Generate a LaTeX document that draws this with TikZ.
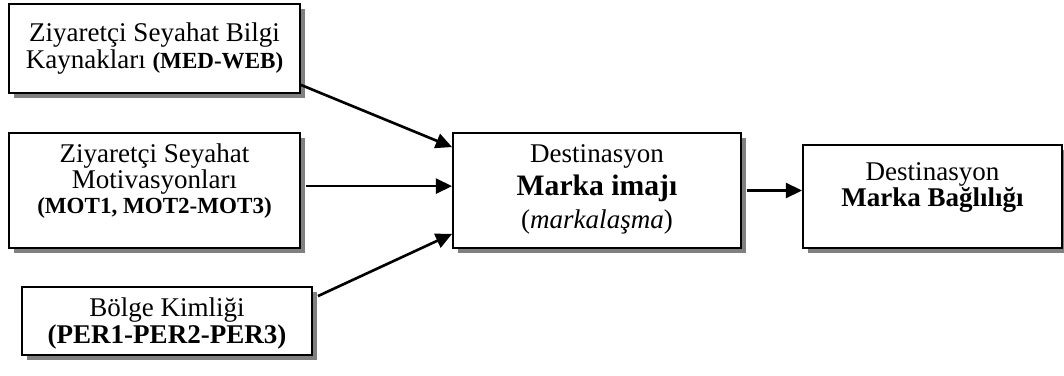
\documentclass[tikz,border=0pt]{standalone}
\usepackage{fontspec}
\setmainfont{Liberation Serif}
\usetikzlibrary{calc,arrows.meta,shadows}

\tikzset{
	kutu/.style={draw, line width=0.85pt, fill=white, inner sep=0pt,
		drop shadow={shadow xshift=0.08cm, shadow yshift=-0.08cm, fill=black!50, opacity=1}},
	yazi/.style={align=center, inner sep=0pt},
	ok/.style={line width=1.2pt, -{Triangle[length=0.26cm,width=0.24cm]}}
}

\begin{document}
\begin{tikzpicture}[font=\fontsize{12.3}{12.4}\selectfont]
	\useasboundingbox (0cm,0cm) rectangle (17.024cm,-6.016cm);

	% sol sutun
	\node[kutu, minimum width=4.656cm, minimum height=1.424cm] (kaynak) at (2.472cm,-0.776cm) {};
	\node[yazi] (kaynak-y) at (kaynak)
		{Ziyaretçi Seyahat Bilgi\\Kaynakları {\fontsize{10.5}{10}\selectfont\bfseries (MED-WEB)}};

	\node[kutu, minimum width=4.656cm, minimum height=1.84cm] (motivasyon) at (2.472cm,-3.048cm) {};
	\node[yazi, font=\fontsize{12.3}{11.8}\selectfont] (motivasyon-y) at ($(motivasyon)+(0,0.15)$)
		{Ziyaretçi Seyahat\\Motivasyonları\\{\fontsize{10.5}{10}\selectfont\bfseries (MOT1, MOT2-MOT3)}};

	\node[kutu, minimum width=4.64cm, minimum height=1.088cm] (kimlik) at (2.672cm,-5.136cm) {};
	\node[yazi] (kimlik-y) at ($(kimlik)+(0,-0.04)$)
		{Bölge Kimliği\\\textbf{(PER1-PER2-PER3)}};

	% orta ve sag
	\node[kutu, minimum width=4.608cm, minimum height=1.84cm] (imaj) at (9.552cm,-3.048cm) {};
	\node[yazi, font=\fontsize{12.3}{15}\selectfont] (imaj-y) at ($(imaj)+(0,0.02)$)
		{Destinasyon\\{\fontsize{13.5}{15}\selectfont\bfseries Marka imajı}\\(\textit{markalaşma})};

	\node[kutu, minimum width=4.144cm, minimum height=1.648cm] (baglilik) at (14.92cm,-3.144cm) {};
	\node[yazi, font=\fontsize{12.3}{12}\selectfont] (baglilik-y) at ($(baglilik)+(0,0.14)$)
		{Destinasyon\\\textbf{Marka Bağlılığı}};

	\draw[ok] ($(kaynak.south east)+(0,0.144)$) -- ($(imaj.north west)+(0,-0.24)$);
	\draw[ok] ($(motivasyon.east)+(0.08,0.07)$) -- ($(imaj.west)+(0,0.07)$);
	\draw[ok] ($(kimlik.north east)+(0.08,-0.16)$) -- ($(imaj.south west)+(0,0.24)$);
	\draw[ok] ($(imaj.east)+(0.08,0)$) -- (imaj.east -| baglilik.west);
\end{tikzpicture}
\end{document}
